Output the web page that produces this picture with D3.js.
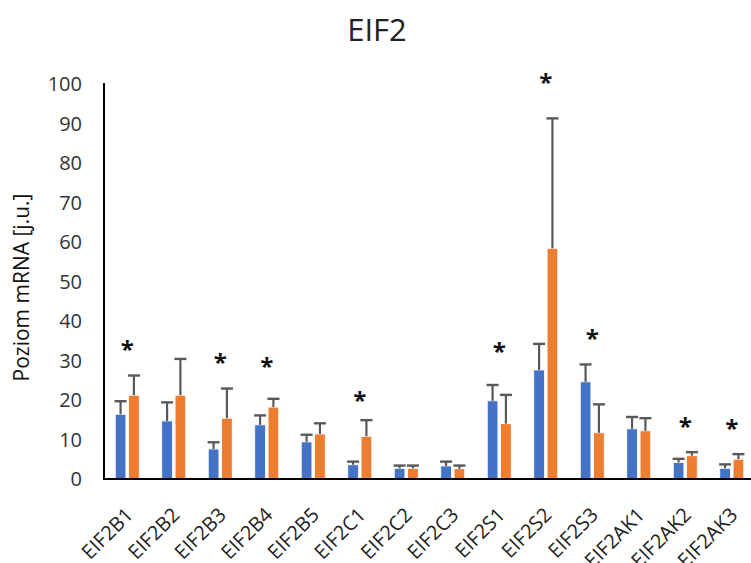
<!DOCTYPE html>
<html>
<head>
<meta charset="utf-8">
<script src="https://cdn.jsdelivr.net/npm/d3@7"></script>
<style>
  html, body { margin: 0; padding: 0; background: #fff; }
  svg { display: block; font-family: "Open Sans", "Noto Sans", sans-serif; }
</style>
</head>
<body>
<svg id="chart" width="751" height="563"></svg>
<script>
// Gene names along the x axis
const categories = ["EIF2B1", "EIF2B2", "EIF2B3", "EIF2B4", "EIF2B5", "EIF2C1", "EIF2C2",
  "EIF2C3", "EIF2S1", "EIF2S2", "EIF2S3", "EIF2AK1", "EIF2AK2", "EIF2AK3"];

// First group (blue): mean and upper error
const blueValues = [16.4, 14.7, 7.6, 13.7, 9.4, 3.6, 2.7, 3.3, 19.8, 27.6, 24.6, 12.7, 4.2, 2.7];
const blueErrors = [3.3, 4.7, 1.7, 2.4, 1.8, 0.8, 0.7, 1.1, 4.0, 6.6, 4.4, 3.0, 0.9, 1.0];

// Second group (orange): mean and upper error
const orangeValues = [21.2, 21.2, 15.4, 18.2, 11.4, 10.8, 2.7, 2.6, 14.0, 58.4, 11.7, 12.2, 5.9, 5.0];
const orangeErrors = [5.0, 9.2, 7.5, 2.1, 2.7, 4.1, 0.7, 0.8, 7.3, 32.9, 7.2, 3.2, 0.9, 1.3];

// Significance markers: gene and the level (in axis units) where the asterisk sits
const starGenes = ["EIF2B1", "EIF2B3", "EIF2B4", "EIF2C1", "EIF2S1", "EIF2S2", "EIF2S3", "EIF2AK2", "EIF2AK3"];
const starLevels = [33.9, 30.4, 29.4, 21.0, 33.2, 101.5, 36.5, 14.4, 13.7];

// Y axis ticks
const yTicks = [0, 10, 20, 30, 40, 50, 60, 70, 80, 90, 100];

const titleText = "EIF2";
const yTitle = "Poziom mRNA [j.u.]";

const seriesKeys = ["blue", "orange"];
const colors = { blue: "#4472C4", orange: "#ED7D31" };

const rows = categories.map((c, i) => ({
  cat: c,
  blue: { v: blueValues[i], e: blueErrors[i] },
  orange: { v: orangeValues[i], e: orangeErrors[i] }
}));

const svg = d3.select("#chart");
const W = 751, H = 563;
const plot = { left: 104, right: 755, top: 84, bottom: 479 };

const x = d3.scaleBand().domain(categories).range([plot.left, plot.right]).paddingInner(0).paddingOuter(0);
const bw = x.bandwidth();
const xs = d3.scaleBand().domain(seriesKeys).range([bw / 2 - 12, bw / 2 + 12]).paddingInner(0.2);
const y = d3.scaleLinear().domain([0, 100]).range([plot.bottom, plot.top]);

// Title
svg.append("text")
  .attr("x", 377).attr("y", 41)
  .attr("text-anchor", "middle")
  .attr("font-size", 31)
  .attr("fill", "#222")
  .text(titleText);

// Y tick labels
svg.append("g").selectAll("text")
  .data(yTicks).join("text")
  .attr("x", 82).attr("y", d => y(d))
  .attr("dy", "0.35em")
  .attr("text-anchor", "end")
  .attr("font-size", 20)
  .attr("fill", "#333")
  .text(d => d);

// Y axis title
svg.append("text")
  .attr("transform", `translate(29, ${(plot.top + plot.bottom) / 2 + 6}) rotate(-90)`)
  .attr("text-anchor", "middle")
  .attr("font-size", 21)
  .attr("fill", "#111")
  .text(yTitle);

// Bars
const groups = svg.append("g").selectAll("g")
  .data(rows).join("g")
  .attr("transform", d => `translate(${x(d.cat)},0)`);

seriesKeys.forEach(k => {
  groups.append("rect")
    .attr("x", xs(k))
    .attr("width", xs.bandwidth())
    .attr("y", d => y(d[k].v))
    .attr("height", d => y(0) - y(d[k].v))
    .attr("fill", colors[k])
    .attr("stroke", "#fff")
    .attr("stroke-width", 0.8);
});

// Error bars (upper only)
seriesKeys.forEach(k => {
  const cx = xs(k) + xs.bandwidth() / 2;
  groups.append("line")
    .attr("x1", cx).attr("x2", cx)
    .attr("y1", d => y(d[k].v))
    .attr("y2", d => y(d[k].v + d[k].e))
    .attr("stroke", "#595959")
    .attr("stroke-width", 2.2);
  groups.append("line")
    .attr("x1", cx - 6).attr("x2", cx + 6)
    .attr("y1", d => y(d[k].v + d[k].e))
    .attr("y2", d => y(d[k].v + d[k].e))
    .attr("stroke", "#595959")
    .attr("stroke-width", 2.4);
});

// Axis lines
svg.append("line")
  .attr("x1", plot.left).attr("x2", plot.left)
  .attr("y1", plot.top - 1).attr("y2", plot.bottom)
  .attr("stroke", "#000").attr("stroke-width", 2);
svg.append("line")
  .attr("x1", plot.left - 1).attr("x2", W)
  .attr("y1", plot.bottom).attr("y2", plot.bottom)
  .attr("stroke", "#000").attr("stroke-width", 2.2);

// Category labels, rotated (the lowest ones run past the bottom edge)
svg.append("g").selectAll("text")
  .data(categories).join("text")
  .attr("transform", d => `translate(${x(d) + bw / 2 - 3}, 506) rotate(-45)`)
  .attr("text-anchor", "end")
  .attr("dy", "0.72em")
  .attr("font-size", 20)
  .attr("fill", "#222")
  .text(d => d);

// Significance asterisks
const starFs = 24;
svg.append("g").selectAll("text")
  .data(starGenes.map((g, i) => ({ g, lvl: starLevels[i] })))
  .join("text")
  .attr("x", d => x(d.g) + bw / 2)
  .attr("y", d => y(d.lvl) + starFs * 0.52)
  .attr("text-anchor", "middle")
  .attr("font-size", starFs)
  .attr("font-weight", "bold")
  .attr("fill", "#111")
  .text("*");
</script>
</body>
</html>
